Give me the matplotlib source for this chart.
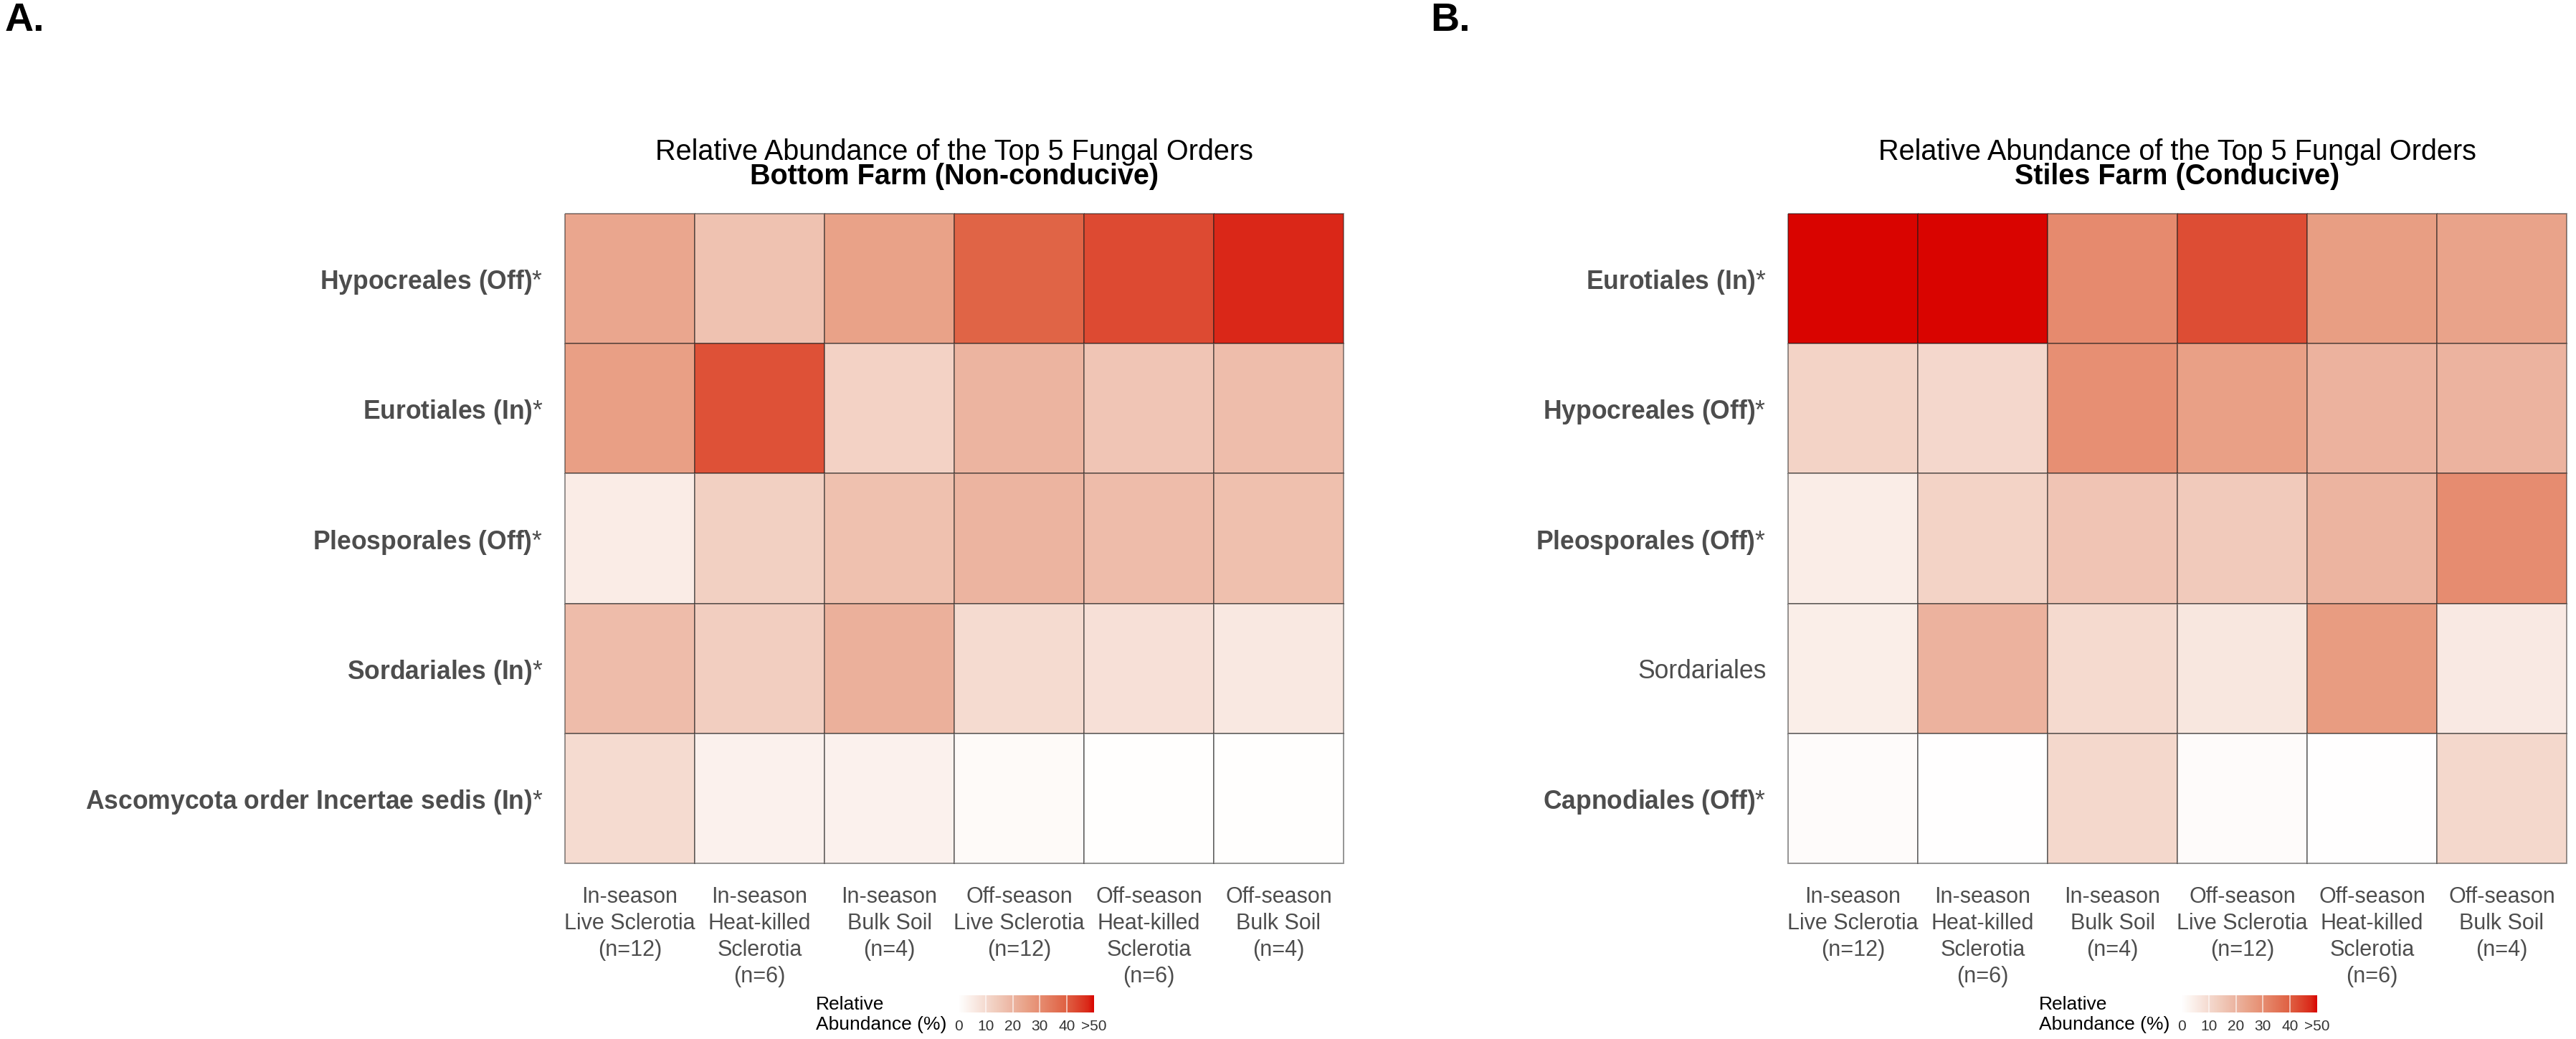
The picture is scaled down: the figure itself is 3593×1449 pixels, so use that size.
import numpy as np
import matplotlib
matplotlib.use("Agg")
import matplotlib.pyplot as plt
from matplotlib.colors import LinearSegmentedColormap, Normalize

plt.rcParams['font.family'] = ['Liberation Sans', 'DejaVu Sans']
plt.rcParams['mathtext.fontset'] = 'custom'
plt.rcParams['mathtext.rm'] = 'Liberation Sans'
plt.rcParams['mathtext.bf'] = 'Liberation Sans:bold'
plt.rcParams['mathtext.it'] = 'Liberation Sans:italic'

# ---------------- data ----------------
samples = ["In-season\nLive Sclerotia\n(n=12)",
           "In-season\nHeat-killed\nSclerotia\n(n=6)",
           "In-season\nBulk Soil\n(n=4)",
           "Off-season\nLive Sclerotia\n(n=12)",
           "Off-season\nHeat-killed\nSclerotia\n(n=6)",
           "Off-season\nBulk Soil\n(n=4)"]

orders_a = ["Hypocreales (Off)", "Eurotiales (In)", "Pleosporales (Off)",
            "Sordariales (In)", "Ascomycota order Incertae sedis (In)"]
signif_a = [True, True, True, True, True]

orders_b = ["Eurotiales (In)", "Hypocreales (Off)", "Pleosporales (Off)",
            "Sordariales", "Capnodiales (Off)"]
signif_b = [True, True, True, False, True]

abund_a = np.array([
    [23.8, 16.5, 24.8, 39.0, 43.3, 48.0],
    [25.5, 42.2, 12.3, 20.2, 15.7, 17.8],
    [5.2, 12.8, 16.8, 20.2, 18.1, 17.0],
    [18.1, 13.4, 21.2, 9.8, 8.5, 6.3],
    [9.8, 3.8, 3.8, 1.4, 0.5, 0.5],
])

abund_b = np.array([
    [58.0, 57.0, 30.6, 42.8, 25.8, 24.5],
    [12.0, 10.9, 29.4, 25.3, 20.7, 20.5],
    [4.9, 12.0, 16.0, 14.4, 20.2, 30.1],
    [4.7, 20.7, 10.0, 6.8, 26.2, 6.0],
    [1.1, 0.3, 10.6, 1.1, 0.3, 10.6],
])

title_main = "Relative Abundance of the Top 5 Fungal Orders"
title_a = "Bottom Farm (Non-conducive)"
title_b = "Stiles Farm (Conducive)"
legend_title = "Relative\nAbundance (%)"
legend_ticks = [0, 10, 20, 30, 40, 50]
legend_labels = ["0", "10", "20", "30", "40", ">50"]

# ---------------- style ----------------
VMAX = 50.0
stops = [(0, '#FFFFFF'), (5.2, '#FAECE6'), (12.8, '#F2D0C2'), (20.2, '#ECB4A0'),
         (24.8, '#E9A288'), (30.6, '#E68A6E'), (39, '#E06446'), (42.2, '#DE5238'),
         (48, '#DA2818'), (50, '#D90400')]
cmap = LinearSegmentedColormap.from_list('abund', [(v / VMAX, c) for v, c in stops])
norm = Normalize(0, VMAX)

W, H = 3593, 1449
fig = plt.figure(figsize=(W / 100, H / 100), dpi=100)

GRAY = '#4D4D4D'


def fx(px):
    return px / W


def fy(py):
    return 1 - py / H


def fmt(name, sig):
    if sig:
        return r'$\mathbf{' + name.replace(' ', r'\ ') + r'}\mathrm{*}$'
    return name


def panel(left_px, data, orders, signif, subtitle, letter, letter_x):
    top_px, bottom_px = 298, 1204
    width_px = 1086
    ax = fig.add_axes([fx(left_px), fy(bottom_px), width_px / W, (bottom_px - top_px) / H])
    nr, nc = data.shape
    mesh = ax.pcolormesh(np.arange(nc + 1), np.arange(nr + 1), data, cmap=cmap, norm=norm,
                         edgecolors=(0.1, 0.1, 0.1, 0.45), linewidth=1.3)
    mesh.set_clip_on(False)
    ax.set_xlim(0, nc)
    ax.set_ylim(nr, 0)
    ax.set_xticks(np.arange(nc) + 0.5)
    ax.set_xticklabels(samples, fontsize=22, color=GRAY, linespacing=1.3)
    ax.set_yticks(np.arange(nr) + 0.5)
    labels = [fmt(o, s) for o, s in zip(orders, signif)]
    ax.set_yticklabels(labels, fontsize=25.6, color=GRAY)
    ax.tick_params(axis='x', length=0, pad=23)
    ax.tick_params(axis='y', length=0, pad=22)
    for sp in ax.spines.values():
        sp.set_visible(False)

    cx = left_px + width_px / 2
    fig.text(fx(cx), fy(223), title_main, ha='center', va='baseline', fontsize=28.5, color='black')
    fig.text(fx(cx), fy(257), subtitle, ha='center', va='baseline', fontsize=28.5,
             fontweight='bold', color='black')
    fig.text(fx(letter_x), fy(43), letter, ha='left', va='baseline', fontsize=40,
             fontweight='bold', color='black')

    # legend colourbar
    bar_l = cx + 6
    bar_w = 189
    cax = fig.add_axes([fx(bar_l), fy(1412), bar_w / W, 24 / H])
    grad = np.linspace(0, VMAX, 256).reshape(1, -1)
    cax.imshow(grad, extent=[0, VMAX, 0, 1], aspect='auto', cmap=cmap, norm=norm)
    cax.vlines(legend_ticks[1:-1], 0, 1, colors='white', linewidth=1.2, alpha=0.7)
    cax.set_xlim(0, VMAX)
    cax.set_ylim(0, 1)
    cax.set_yticks([])
    cax.set_xticks(legend_ticks)
    cax.set_xticklabels(legend_labels, fontsize=15, color='#333333')
    cax.tick_params(axis='x', length=0, pad=7)
    for sp in cax.spines.values():
        sp.set_visible(False)
    fig.text(fx(cx - 193), fy(1415), legend_title, ha='left', va='center', fontsize=19,
             color='black', linespacing=1.2)
    return ax


panel(788, abund_a, orders_a, signif_a, title_a, "A.", 7)
panel(2494, abund_b, orders_b, signif_b, title_b, "B.", 1995)

fig.savefig("out.png", dpi=100, facecolor='white')
